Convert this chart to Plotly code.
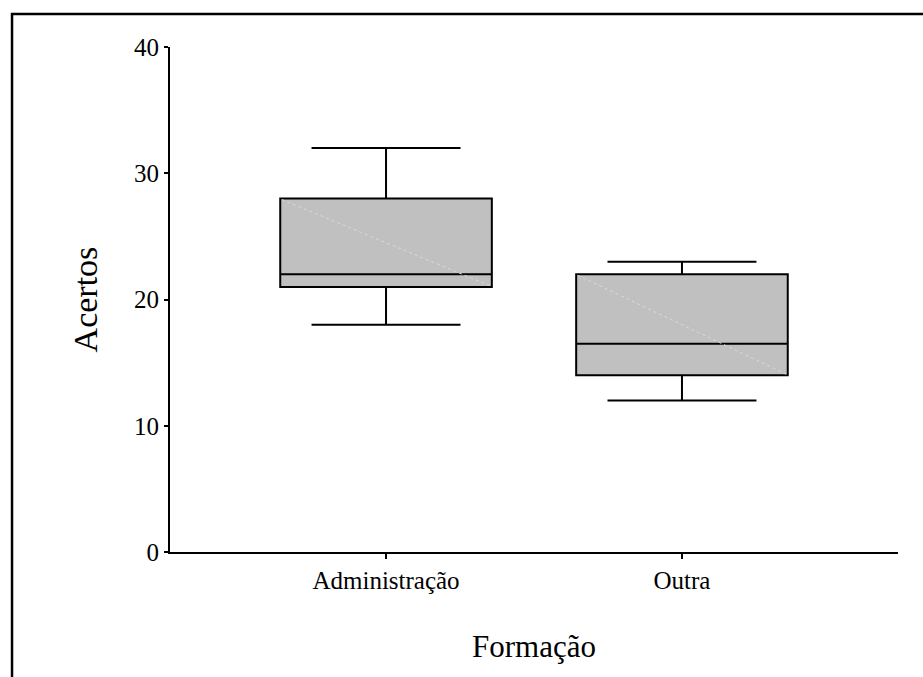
import plotly.graph_objects as go

categories = ["Administração", "Outra"]
lower_whisker = [18, 12]
q1_values = [21, 14]
median_values = [22, 16.5]
q3_values = [28, 22]
upper_whisker = [32, 23]

y_ticks = [0, 10, 20, 30, 40]

BOX_WIDTH = 0.715
FONT = "Liberation Serif, Times New Roman, serif"
positions = list(range(len(categories)))

fig = go.Figure()
fig.add_trace(go.Box(
    x=positions,
    q1=q1_values,
    median=median_values,
    q3=q3_values,
    lowerfence=lower_whisker,
    upperfence=upper_whisker,
    width=BOX_WIDTH,
    whiskerwidth=0.704,
    fillcolor="#c0c0c0",
    line=dict(color="black", width=2),
    boxpoints=False,
    showlegend=False,
    hoverinfo="skip",
))

# faint diagonal artifact across each box (top-left to bottom-right)
for i in positions:
    fig.add_trace(go.Scatter(
        x=[i - BOX_WIDTH / 2 + 0.005, i + BOX_WIDTH / 2 - 0.005],
        y=[q3_values[i] - 0.08, q1_values[i] + 0.08],
        mode="lines",
        line=dict(color="#dadada", width=1, dash="dot"),
        showlegend=False,
        hoverinfo="skip",
    ))

fig.update_layout(
    width=923, height=677,
    margin=dict(l=170, r=25, t=47, b=125),
    paper_bgcolor="white",
    plot_bgcolor="white",
    font=dict(family=FONT, color="black"),
    showlegend=False,
    xaxis=dict(
        range=[-0.73, 1.73],
        tickvals=positions,
        ticktext=categories,
        showline=True, linecolor="black", linewidth=2,
        ticks="outside", ticklen=5, tickwidth=2, tickcolor="black",
        tickfont=dict(family=FONT, size=25, color="black"),
        showgrid=False, zeroline=False,
        title=dict(text="Formação", font=dict(family=FONT, size=31, color="black"), standoff=42),
    ),
    yaxis=dict(
        range=[0, 40],
        tickvals=y_ticks,
        showline=True, linecolor="black", linewidth=2,
        ticks="outside", ticklen=4, tickwidth=2, tickcolor="black",
        tickfont=dict(family=FONT, size=25, color="black"),
        showgrid=False, zeroline=False,
        title=dict(text="Acertos", font=dict(family=FONT, size=34, color="black"), standoff=26),
    ),
    shapes=[dict(
        type="rect", xref="paper", yref="paper",
        x0=-0.217, x1=1.2, y0=-0.4, y1=1.0653,
        line=dict(color="black", width=2.5),
        fillcolor="rgba(0,0,0,0)",
        layer="below",
    )],
)

fig.write_html(
    "out.html",
    config={"displayModeBar": False},
    post_script="document.body.style.margin='0';",
)
